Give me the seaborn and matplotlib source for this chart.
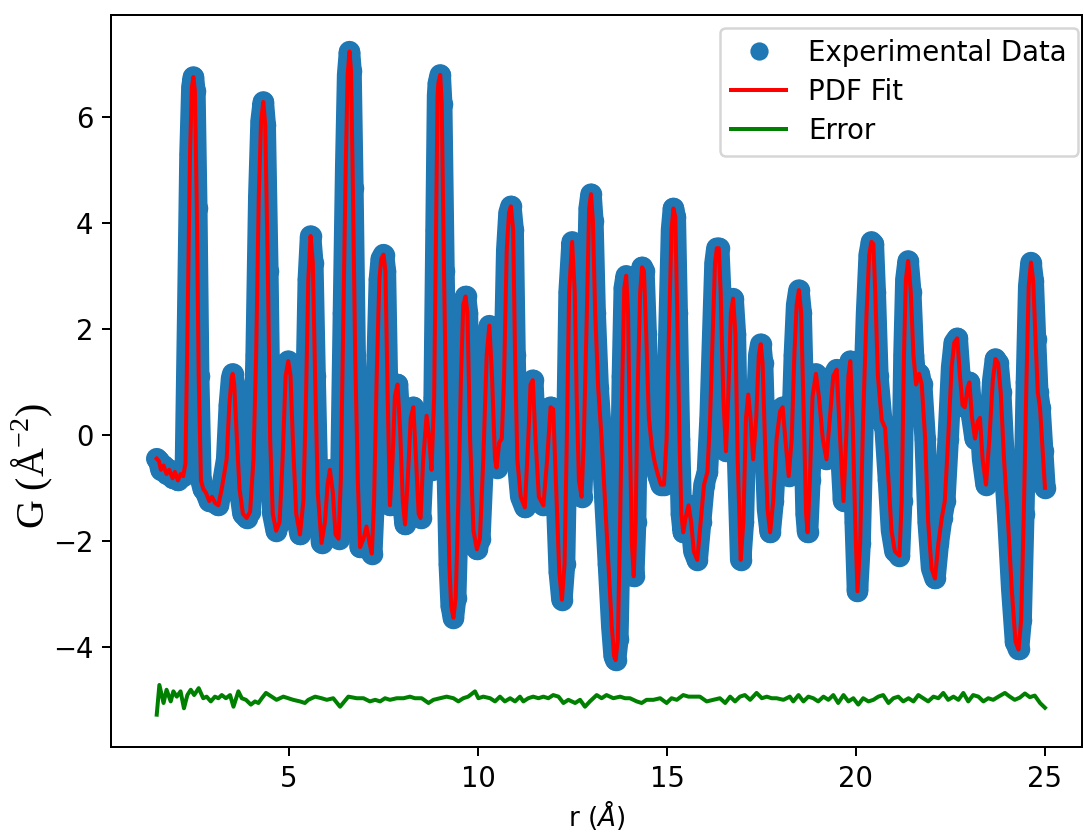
import matplotlib
matplotlib.use("Agg")
import matplotlib.pyplot as plt
import seaborn as sns

# ---- data ----
r_obs = [1.50, 1.56, 1.61, 1.68, 1.76, 1.83, 1.92, 1.98, 2.06, 2.13, 2.20, 2.26, 2.32, 2.38, 2.43, 2.47, 2.51, 2.56, 2.61, 2.67,
         2.73, 2.80, 2.89, 2.96, 3.05, 3.13, 3.22, 3.35, 3.42, 3.48, 3.51, 3.55, 3.62, 3.69, 3.78, 3.88, 3.97, 4.06, 4.13, 4.20,
         4.26, 4.32, 4.37, 4.44, 4.50, 4.57, 4.66, 4.75, 4.83, 4.91, 4.98, 5.04,
         5.10, 5.19, 5.29, 5.38, 5.45, 5.51, 5.57, 5.63, 5.69, 5.76, 5.86, 5.95, 6.02, 6.08, 6.16, 6.23, 6.31, 6.37, 6.44, 6.50,
         6.55, 6.60, 6.64, 6.69, 6.75, 6.82, 6.88, 6.97, 7.05, 7.13, 7.19, 7.25, 7.32, 7.39, 7.44, 7.50, 7.55, 7.61, 7.67, 7.74,
         7.80, 7.87, 7.94, 8.01, 8.07, 8.14, 8.22, 8.29, 8.36, 8.43, 8.48, 8.55, 8.64, 8.71, 8.77, 8.84, 8.89, 8.93,
         8.95, 9.00, 9.04, 9.10, 9.17, 9.24, 9.29, 9.35, 9.41, 9.48, 9.55, 9.61, 9.67, 9.72, 9.79, 9.88, 9.97, 10.05, 10.14, 10.23,
         10.30, 10.37, 10.45, 10.49, 10.56, 10.63, 10.69, 10.76, 10.82, 10.87, 10.93, 10.98, 11.04, 11.13, 11.24, 11.33, 11.39,
         11.45, 11.52, 11.61, 11.73, 11.83, 11.92, 11.99, 12.06, 12.15, 12.22, 12.29, 12.35, 12.41, 12.49,
         12.56, 12.61, 12.67, 12.74, 12.80, 12.88, 12.94, 12.99, 13.04, 13.10, 13.18, 13.27, 13.36, 13.45, 13.54, 13.60, 13.64,
         13.70, 13.76, 13.82, 13.87, 13.92, 13.97, 14.02, 14.07, 14.12, 14.17, 14.22, 14.29, 14.34, 14.39, 14.45, 14.52, 14.60,
         14.68, 14.77, 14.84, 14.92, 14.99, 15.05, 15.12, 15.17, 15.22, 15.27, 15.33, 15.38, 15.43, 15.49, 15.57, 15.64, 15.71,
         15.80, 15.89, 15.98, 16.07, 16.14, 16.21, 16.27, 16.32,
         16.37, 16.42, 16.49, 16.56, 16.62, 16.69, 16.75, 16.81, 16.87, 16.95, 17.02, 17.09, 17.15, 17.21, 17.28, 17.36, 17.43,
         17.48, 17.53, 17.59, 17.66, 17.73, 17.81, 17.90, 17.99, 18.06, 18.13, 18.22, 18.30, 18.37, 18.43, 18.49, 18.55, 18.62,
         18.68, 18.72, 18.78, 18.85, 18.94, 19.02, 19.12, 19.22, 19.31, 19.40, 19.49, 19.58, 19.67, 19.74, 19.80, 19.85, 19.91,
         19.98, 20.04,
         20.11, 20.19, 20.28, 20.35, 20.41, 20.46, 20.51, 20.58, 20.68, 20.77, 20.86, 20.94, 21.03, 21.15, 21.21, 21.27, 21.32,
         21.38, 21.45, 21.52, 21.59, 21.67, 21.74, 21.83, 21.91, 22.00, 22.09, 22.18, 22.27, 22.35, 22.44, 22.53, 22.60, 22.68,
         22.75, 22.82, 22.88, 22.95, 23.00, 23.07, 23.15, 23.22, 23.28, 23.35, 23.44, 23.53, 23.62, 23.69, 23.76,
         23.83, 23.92, 24.02, 24.12, 24.22, 24.30, 24.37, 24.44, 24.51, 24.57, 24.63, 24.69, 24.75, 24.81, 24.87, 24.94, 25.00]

g_obs = [-0.45, -0.50, -0.66, -0.58, -0.74, -0.66, -0.82, -0.70, -0.86, -0.74, -0.78, -0.54, 2.30, 5.30, 6.56, 6.75, 6.48, 4.27, 1.11, -0.86,
         -1.02, -1.09, -1.25, -1.17, -1.29, -1.33, -1.02, -0.46, 0.56, 1.07, 1.15, 0.95, -0.07, -1.02, -1.49, -1.57, -1.45, -0.46, 1.51, 4.50,
         5.92, 6.28, 5.85, 3.09, -0.07, -1.49, -1.81, -1.65, -0.46, 1.11, 1.39, 1.11,
         -0.07, -1.49, -1.88, -1.25, 0.72, 2.93, 3.75, 3.24, 1.11, -1.09, -2.04, -1.65, -0.94, -0.66, -1.09, -1.88, -1.96, -0.86, 2.30, 5.06,
         6.79, 7.23, 6.87, 4.66, 1.51, -0.86, -2.12, -1.96, -1.73, -2.04, -2.24, -1.25, 1.11, 2.93, 3.32, 3.40, 3.09, 0.72, -1.33, -0.46,
         0.72, 0.95, 0.09, -1.25, -1.69, -0.86, 0.32, 0.52, -0.46, -1.49, -1.57, -0.46, 0.36, -0.07, -0.66, 0.72, 3.87, 6.40,
         6.63, 6.79, 6.24, 3.09, -0.07, -2.44, -3.23, -3.45, -3.07, -1.25, 1.11, 2.45, 2.61, 2.30, -0.07, -1.81, -2.16, -1.96, -0.46, 1.51,
         2.06, 1.11, -0.46, -0.62, -0.15, -0.07, 1.11, 3.48, 4.19, 4.31, 3.87, 1.51, -0.46, -1.17, -1.37, -0.07, 0.95,
         1.03, -0.07, -1.17, -1.33, -0.46, 0.52, 0.48, -0.86, -2.59, -3.11, -2.44, -0.07, 2.69, 3.64,
         2.69, 0.72, -0.86, -1.17, -0.07, 2.30, 4.27, 4.54, 4.03, 2.30, 0.88, -0.07, -1.25, -2.44, -3.62, -4.17, -4.25,
         -3.86, -1.65, 1.11, 2.77, 3.00, 2.30, -0.07, -2.04, -2.67, -1.65, 0.72, 2.69, 3.16, 3.09, 1.90, 0.32, -0.23,
         -0.54, -0.78, -0.94, -0.94, -0.07, 1.90, 3.87, 4.27, 4.11, 2.30, -0.07, -1.49, -1.84, -1.57, -1.33, -1.65, -2.20,
         -2.36, -1.65, -0.94, -0.70, 0.32, 1.90, 3.24, 3.52,
         3.52, 2.69, 0.72, -0.31, 0.72, 2.30, 2.57, 1.90, -0.46, -2.36, -1.65, 0.32, 0.76, 0.32, -0.46, 0.32, 1.51,
         1.71, 1.35, -0.07, -1.41, -1.84, -1.25, -0.07, 0.44, 0.52, -0.07, -0.78, -0.07, 1.51, 2.45, 2.73, 2.30, 0.32,
         -1.49, -1.84, -0.86, 0.72, 1.15, 0.72, -0.07, -0.46, 0.32, 1.11, 1.23, -0.07, -1.25, -0.07, 1.11, 1.39, 0.32,
         -1.65, -2.95,
         -2.04, 0.32, 2.30, 3.40, 3.64, 3.60, 2.69, 1.11, 0.28, 0.13, -0.86, -1.81, -2.20, -2.28, -1.25, 1.51, 2.93,
         3.28, 2.69, 1.51, 0.95, 1.15, 0.95, -0.07, -1.65, -2.52, -2.71, -2.04, -1.57, -1.25, -0.07, 1.27, 1.74, 1.82,
         1.11, 0.56, 0.52, 0.88, 0.99, 0.32, -0.07, 0.25, 0.32, -0.46, -0.94, -0.07, 1.03, 1.43, 1.35,
         0.80, -0.50, -1.60, -2.90, -3.90, -4.05, -3.50, -1.50, 1.00, 2.80, 3.25, 2.90, 1.80, 0.80, 0.50, -0.30, -1.00]

g_fit = list(g_obs)

r_err = [1.50, 1.57, 1.68, 1.76, 1.87, 1.94, 2.03, 2.13, 2.22, 2.31, 2.40, 2.49, 2.61, 2.73, 2.82, 2.93, 3.04, 3.13, 3.22, 3.33,
         3.44, 3.53, 3.66, 3.75, 3.86, 3.99, 4.10, 4.19, 4.28, 4.39, 4.54, 4.67, 4.85, 4.98, 5.11, 5.29, 5.42, 5.51, 5.69, 5.86,
         6.00, 6.17, 6.35, 6.57, 6.79, 6.97, 7.14, 7.28, 7.41, 7.54, 7.67, 7.85, 8.03, 8.20, 8.33, 8.51, 8.69, 8.82, 9.00, 9.17,
         9.35, 9.48, 9.61, 9.74, 9.92, 10.01, 10.14, 10.32, 10.45, 10.58, 10.71, 10.85, 10.98, 11.11, 11.20, 11.33, 11.46, 11.60,
         11.73, 11.86, 11.99, 12.13, 12.26, 12.39, 12.57, 12.70, 12.83, 12.96, 13.14, 13.27, 13.40, 13.58, 13.76, 13.89, 14.02,
         14.20, 14.33, 14.46, 14.64, 14.82, 14.99, 15.12, 15.26, 15.43, 15.57, 15.70, 15.87, 16.05, 16.23, 16.40, 16.54, 16.67,
         16.80, 16.93, 17.06, 17.20, 17.37, 17.51, 17.64, 17.77, 17.90, 18.08, 18.25, 18.34, 18.48, 18.61, 18.74, 18.87, 19.00,
         19.14, 19.27, 19.40, 19.53, 19.67, 19.80, 19.93, 20.06, 20.19, 20.33, 20.46, 20.59, 20.72, 20.86, 20.99, 21.12, 21.25,
         21.39, 21.52, 21.65, 21.78, 21.91, 22.05, 22.18, 22.31, 22.44, 22.58, 22.71, 22.84, 22.97, 23.10, 23.24, 23.37, 23.50,
         23.63, 23.77, 23.94, 24.07, 24.20, 24.33, 24.47, 24.60, 24.73, 24.87, 25.00]

g_err = [-5.28, -4.72, -5.06, -4.81, -5.03, -4.84, -4.94, -4.84, -5.16, -4.91, -4.81, -4.91, -4.78, -4.97, -4.94, -5.03, -4.94, -4.97, -4.91, -4.97,
         -4.91, -5.13, -4.84, -4.97, -5.00, -5.09, -5.03, -5.06, -4.97, -4.87, -4.94, -5.00, -4.94, -4.97, -5.00, -5.03, -5.06, -5.00, -4.94, -4.97,
         -5.00, -4.97, -5.13, -4.94, -4.97, -4.97, -5.03, -5.00, -5.03, -4.97, -5.00, -4.97, -4.97, -4.94, -4.97, -4.97, -5.06, -5.00, -4.97, -4.94,
         -4.97, -5.03, -4.97, -4.94, -4.84, -4.97, -4.94, -4.97, -5.03, -4.94, -5.03, -4.97, -5.03, -4.94, -5.03, -4.97, -4.94, -4.97,
         -4.94, -4.97, -4.91, -4.94, -5.06, -5.00, -5.06, -5.00, -5.13, -5.03, -4.91, -4.97, -4.91, -4.97, -4.94, -4.97, -4.97,
         -5.03, -5.06, -5.00, -5.00, -4.97, -5.06, -4.97, -5.00, -4.91, -4.94, -4.94, -4.94, -5.03, -5.00, -4.97, -5.06, -4.94,
         -5.03, -4.94, -4.91, -5.00, -4.87, -4.97, -4.94, -4.97, -4.97, -5.00, -4.94, -5.03, -4.91, -5.03, -4.94, -4.97, -5.03,
         -4.94, -5.00, -4.91, -5.06, -4.91, -5.03, -4.97, -5.09, -4.97, -5.03, -5.00, -4.94, -4.91, -5.06, -4.97, -4.94, -5.03,
         -4.97, -5.03, -4.91, -4.97, -5.03, -4.94, -4.97, -4.87, -5.00, -4.94, -5.00, -4.87, -5.03, -4.91, -4.94, -5.03, -4.97,
         -5.00, -4.94, -4.87, -4.94, -5.00, -4.96, -4.88, -4.95, -4.92, -5.06, -5.15]

x_ticks = [5, 10, 15, 20, 25]
y_ticks = [-4, -2, 0, 2, 4, 6]

# ---- figure ----
W, H, DPI = 1084, 833, 180
fig = plt.figure(figsize=(W / DPI, H / DPI), dpi=DPI)
ax = fig.add_axes([111 / W, (H - 747) / H, (1082 - 111) / W, (747 - 15) / H])

blue = "#1f77b4"
# band of overlapping data markers
sns.lineplot(x=r_obs, y=g_obs, ax=ax, color=blue, linewidth=8.6, estimator=None, sort=False,
             solid_joinstyle="round", solid_capstyle="round", zorder=1)
sns.lineplot(x=r_obs, y=g_obs, ax=ax, color=blue, linestyle="none", marker="o", markersize=8.6,
             markeredgewidth=0, estimator=None, sort=False, label="Experimental Data", zorder=2)
sns.lineplot(x=r_obs, y=g_fit, ax=ax, color="red", linewidth=1.6, estimator=None, sort=False,
             label="PDF Fit", zorder=3)
sns.lineplot(x=r_err, y=g_err, ax=ax, color="green", linewidth=1.6, estimator=None, sort=False,
             label="Error", zorder=3)

ax.set_xlim(0.29, 25.98)
ax.set_ylim(-5.89, 7.92)
ax.set_xticks(x_ticks)
ax.set_yticks(y_ticks)
ax.tick_params(labelsize=11)

ax.set_xlabel(r"r ($\AA$)", fontsize=10.5)
ax.xaxis.set_label_coords(0.5, (747 - 798) / 732)
ax.set_ylabel("G (Å$^{\\mathregular{-2}}$)", fontsize=16, fontfamily="Liberation Serif")
ax.yaxis.set_label_coords(-0.058, 0.384)

leg = ax.legend(loc="upper right", bbox_to_anchor=(1078 / W, 1 - 28 / H), bbox_transform=fig.transFigure,
                borderaxespad=0, fontsize=11, labelspacing=0.4, markerscale=0.85)

fig.savefig("out.png", dpi=DPI)
